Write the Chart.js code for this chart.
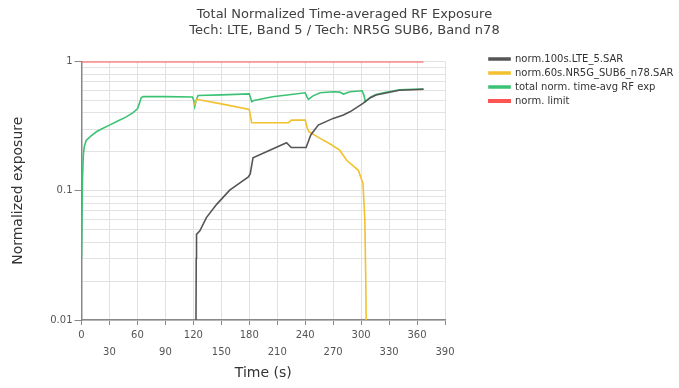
<!DOCTYPE html>
<html>
<head>
<meta charset="utf-8">
<script src="https://cdn.jsdelivr.net/npm/chart.js@4.4.1/dist/chart.umd.min.js"></script>
<style>
  html, body { margin: 0; padding: 0; background: #fff; }
  #wrap { width: 679px; height: 388px; }
</style>
</head>
<body>
<div id="wrap"><canvas id="rfChart"></canvas></div>
<script>
// Data (time in s, normalized exposure)
const lteTime  = [122.8, 123.1, 123.4, 127, 134, 145, 159, 170, 179, 181, 184, 202, 220, 225, 241, 246, 254, 270, 281, 288, 302, 304, 310, 316, 324, 341, 355, 367];
const lteValue = [0.009, 0.03, 0.046, 0.049, 0.062, 0.0785, 0.101, 0.115, 0.128, 0.135, 0.18, 0.206, 0.235, 0.216, 0.216, 0.27, 0.322, 0.363, 0.385, 0.408, 0.474, 0.488, 0.525, 0.55, 0.565, 0.6, 0.605, 0.61];

const nrTime  = [121, 123.5, 150, 180, 182.5, 222, 225.5, 240, 242, 244, 256, 266, 277, 284.5, 297, 302, 304, 305, 305.5];
const nrValue = [0.46, 0.51, 0.47, 0.425, 0.336, 0.336, 0.352, 0.352, 0.31, 0.286, 0.254, 0.232, 0.206, 0.172, 0.144, 0.114, 0.06, 0.02, 0.009];

const totalTime  = [0, 1, 2, 3, 5, 10, 16, 22, 30, 40, 48, 55, 60, 62, 64, 66, 90, 119, 120.5, 121.5, 123, 125, 150, 180, 181.5, 182.5, 185, 205, 225, 240, 242, 243.5, 248, 256, 270, 277, 281, 288, 301, 303, 304.5, 310, 316, 324, 341, 355, 367];
const totalValue = [0.03, 0.12, 0.19, 0.22, 0.245, 0.265, 0.286, 0.302, 0.322, 0.35, 0.373, 0.4, 0.43, 0.47, 0.525, 0.535, 0.535, 0.532, 0.5, 0.45, 0.5, 0.545, 0.552, 0.562, 0.52, 0.49, 0.5, 0.533, 0.555, 0.573, 0.53, 0.51, 0.54, 0.573, 0.584, 0.58, 0.56, 0.584, 0.594, 0.55, 0.488, 0.53, 0.555, 0.573, 0.605, 0.61, 0.612];

const limitTime  = [0, 367];
const limitValue = [1, 1];

const seriesNames = ['norm.100s.LTE_5.SAR', 'norm.60s.NR5G_SUB6_n78.SAR', 'total norm. time-avg RF exp', 'norm. limit'];
const seriesColors = ['#555555', '#f2c12e', '#3cc274', '#ff5454'];
const seriesWidths = [1.6, 1.6, 1.6, 2];

const yGridValues = [0.01, 0.02, 0.03, 0.04, 0.05, 0.06, 0.07, 0.08, 0.09,
                     0.1, 0.2, 0.3, 0.4, 0.5, 0.6, 0.7, 0.8, 0.9, 1];
const yMajorTicks = [0.01, 0.1, 1];
const yMajorLabels = ['0.01', '0.1', '1'];

const FONT = 'DejaVu Sans';

function toPoints(times, values) {
    return times.map((t, i) => ({ x: t, y: values[i] }));
}

const seriesData = [
    toPoints(lteTime, lteValue),
    toPoints(nrTime, nrValue),
    toPoints(totalTime, totalValue),
    toPoints(limitTime, limitValue)
];

const ctx = document.getElementById('rfChart').getContext('2d');
new Chart(ctx, {
    type: 'line',
    data: {
        datasets: seriesData.map((pts, i) => ({
            label: seriesNames[i],
            data: pts,
            borderColor: seriesColors[i],
            backgroundColor: seriesColors[i],
            borderWidth: seriesWidths[i],
            pointRadius: 0,
            tension: 0,
            fill: false
        }))
    },
    options: {
        responsive: true,
        maintainAspectRatio: false,
        animation: false,
        layout: { padding: { left: 12, right: 2, top: 0, bottom: 0 } },
        plugins: {
            title: {
                display: true,
                text: ['Total Normalized Time-averaged RF Exposure', 'Tech: LTE, Band 5 / Tech: NR5G SUB6, Band n78'],
                color: '#404040',
                font: { family: FONT, size: 13, weight: 'normal', lineHeight: 1.25 },
                padding: { top: 6, bottom: 23 }
            },
            legend: {
                position: 'right',
                align: 'start',
                maxWidth: 192,
                title: {
                    display: true,
                    text: ' ',
                    font: { family: FONT, size: 10 },
                    padding: { top: 38, bottom: 0 }
                },
                labels: {
                    boxWidth: 21,
                    boxHeight: 2,
                    padding: 4,
                    color: '#333',
                    font: { family: FONT, size: 10 }
                }
            },
            tooltip: { enabled: false }
        },
        scales: {
            x: {
                type: 'linear',
                min: 0,
                max: 390,
                afterFit(scale) { scale.height = 68; },
                ticks: {
                    stepSize: 30,
                    autoSkip: false,
                    maxRotation: 0,
                    padding: 2,
                    color: '#555',
                    font: { family: FONT, size: 10, lineHeight: 1.7 },
                    callback: (v) => (v % 60 === 0 ? String(v) : ['', String(v)])
                },
                grid: { color: '#e2e2e2', tickColor: '#888', tickLength: 5 },
                border: { color: '#888', width: 1.5 },
                title: {
                    display: true,
                    text: 'Time (s)',
                    color: '#333',
                    font: { family: FONT, size: 14 },
                    padding: { top: 0, bottom: 6.5 }
                }
            },
            y: {
                type: 'logarithmic',
                min: 0.01,
                max: 1,
                afterFit(scale) { scale.width = 69.5; },
                afterBuildTicks(scale) {
                    scale.ticks = yGridValues.map(v => ({ value: v, major: yMajorTicks.includes(v) }));
                },
                ticks: {
                    autoSkip: false,
                    padding: 2,
                    color: '#555',
                    font: { family: FONT, size: 10 },
                    callback: (v) => {
                        const k = yMajorTicks.indexOf(v);
                        return k >= 0 ? yMajorLabels[k] : '';
                    }
                },
                grid: {
                    color: '#e2e2e2',
                    tickLength: 7,
                    tickColor: (c) => (c.tick && yMajorTicks.includes(c.tick.value) ? '#888' : 'rgba(0,0,0,0)')
                },
                border: { color: '#888', width: 1.5 },
                title: {
                    display: true,
                    text: 'Normalized exposure',
                    color: '#333',
                    font: { family: FONT, size: 14 },
                    padding: { top: -2, bottom: 0 }
                }
            },
            // empty spacer between plot and legend
            gap: {
                type: 'linear',
                position: 'right',
                display: true,
                afterFit(scale) { scale.width = 40; },
                ticks: { display: false },
                grid: { display: false, drawTicks: false },
                border: { display: false }
            }
        }
    }
});
</script>
</body>
</html>
